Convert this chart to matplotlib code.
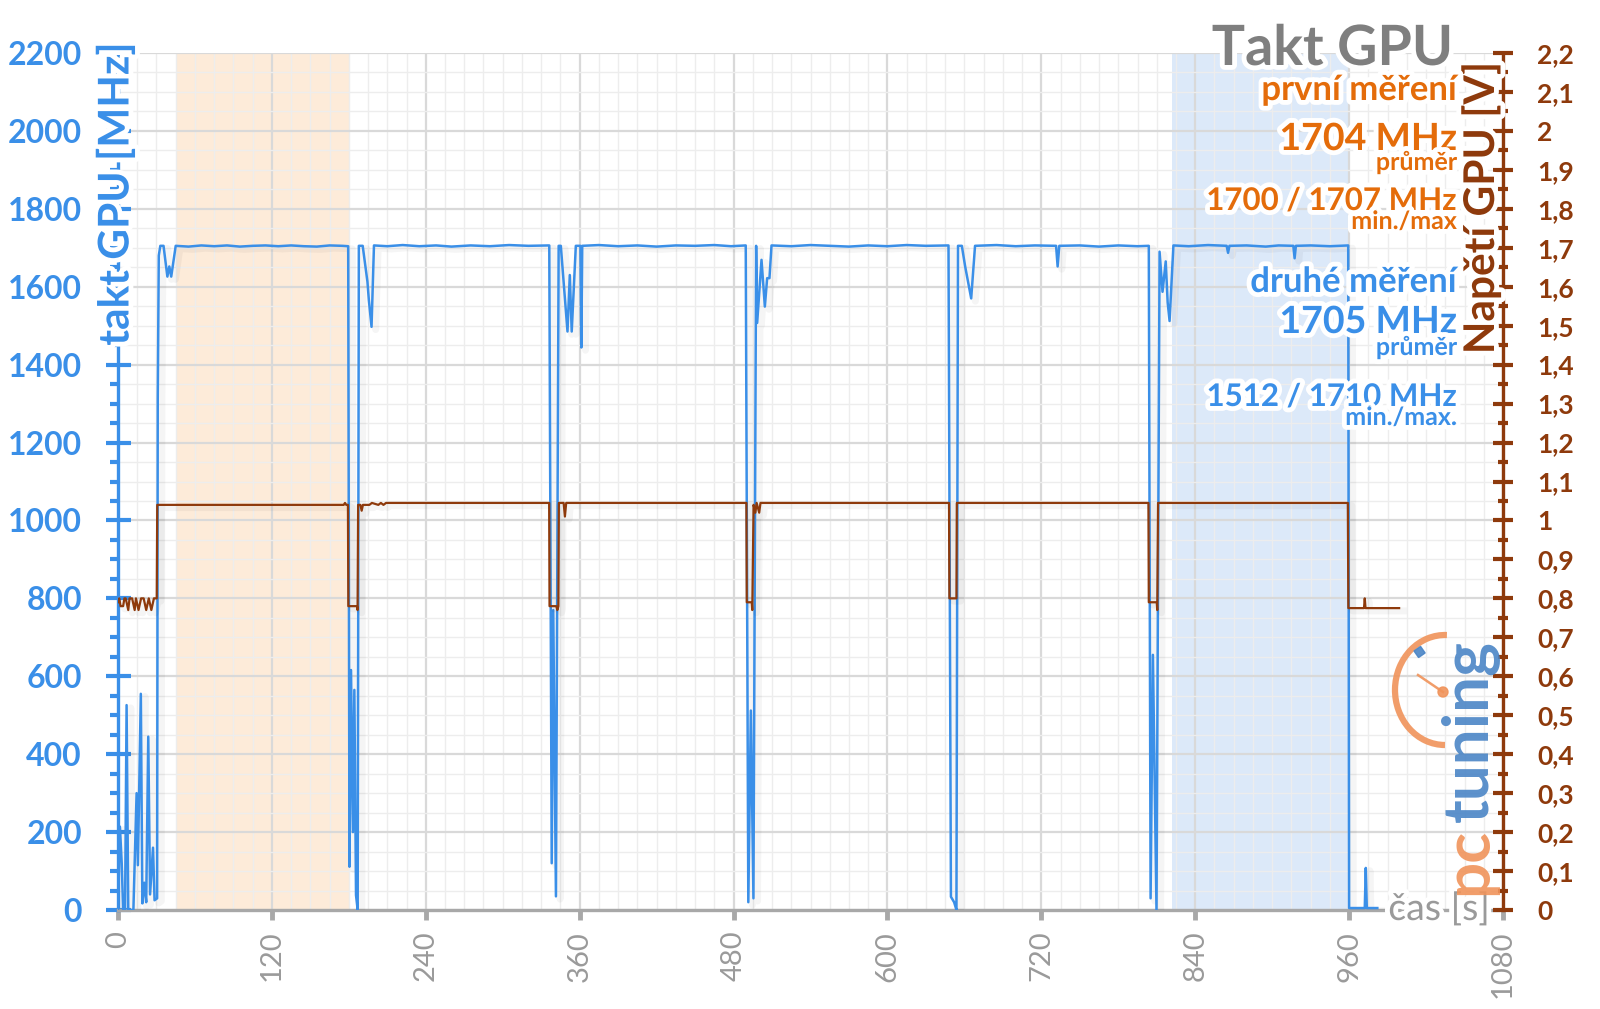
import matplotlib
matplotlib.use('Agg')
import matplotlib.pyplot as plt
from matplotlib import patheffects as pe
from matplotlib.patches import Arc, Circle, Rectangle
from matplotlib.ticker import MultipleLocator

FONT = ['Lato', 'DejaVu Sans']
plt.rcParams['font.family'] = FONT

# ---------------- data ----------------
clock_t = [0, 1.5, 2.9, 4, 5.5, 6.7, 8, 10, 12, 14.5, 15.5, 17.8, 19, 20.5, 22, 23.6, 25, 27.3, 28.5, 30.5,
           31, 31.8, 33, 35.5, 38.5, 40, 41.5, 45,
           55, 65, 75, 85, 95, 105, 115, 125, 135, 145, 155, 165, 175, 179.5,
           180.5, 181.7, 183.2, 184.3, 185.6, 186.9, 187.8, 190.8, 194.5, 195.6, 197.7, 199.6,
           210, 222, 235, 248, 260, 275, 290, 305, 320, 336.3,
           338.2, 339.4, 341.5, 343.6, 345.3, 350.5, 352.3, 353.8, 357, 360.6, 361.3, 362,
           375, 390, 405, 420, 435, 450, 465, 478, 489.5,
           491.5, 493.5, 495.5, 497.6, 498.4, 501.8, 504.4, 506.2, 508, 509.6,
           525, 540, 555, 570, 585, 600, 615, 630, 647.6,
           649.5, 652, 653.8, 655, 658, 660.6, 665.3, 668.3,
           685, 700, 715, 731.5, 732.7, 734, 750, 765, 780, 795, 803.8,
           805.2, 807, 809.8, 812.2, 814.5, 817, 818.5, 820, 823,
           835, 850, 864.5, 865.6, 866.7, 880, 895, 905, 916.5, 917.5, 918.5, 930, 945, 959.3,
           960, 972.2, 973, 973.8, 982]
clock_mhz = [0, 214, 120, 0, 0, 526, 0, 0, 0, 300, 115, 555, 17, 70, 20, 445, 40, 160, 25, 30,
             1315, 1680, 1705, 1705, 1626, 1652, 1626, 1705,
             1703, 1706, 1704, 1706, 1703, 1705, 1706, 1704, 1706, 1704, 1703, 1706, 1705, 1704,
             111, 616, 200, 565, 38, 0, 1705, 1705, 1613, 1566, 1497, 1706,
             1704, 1707, 1704, 1706, 1703, 1706, 1704, 1707, 1705, 1706,
             120, 770, 35, 1705, 1705, 1485, 1630, 1485, 1705, 1705, 1444, 1705,
             1707, 1704, 1706, 1703, 1706, 1705, 1707, 1704, 1706,
             20, 512, 30, 1705, 1507, 1669, 1549, 1622, 1622, 1706,
             1704, 1707, 1705, 1703, 1706, 1704, 1707, 1705, 1706,
             34, 20, 0, 1705, 1705, 1652, 1570, 1705,
             1707, 1704, 1706, 1705, 1652, 1705, 1706, 1703, 1706, 1704, 1705,
             30, 655, 0, 1690, 1587, 1665, 1560, 1512, 1706,
             1704, 1707, 1705, 1687, 1705, 1706, 1703, 1706, 1705, 1673, 1705, 1706, 1704, 1706,
             5, 5, 108, 5, 5]

volt_t = [0, 1, 2, 4, 5, 6, 8, 9, 11, 13, 14, 16, 18, 20, 22, 24, 26, 28, 30.2, 30.6,
          176, 177, 178, 179.3, 179.6, 186.4, 186.8, 187.2,
          189, 190, 191, 196, 198, 203, 205, 207, 209, 212, 336.2,
          336.5, 341.8, 342.6, 343.4, 343.8, 347.5, 348.5, 349.5, 490,
          490.3, 494.2, 494.6, 495.6, 497, 498, 500, 501, 648,
          648.3, 653.8, 654.1, 803.5,
          803.8, 810, 810.4, 811, 959,
          959.4, 971.6, 972.2, 972.8, 999]
volt_v = [0.79, 0.80, 0.78, 0.78, 0.80, 0.80, 0.77, 0.80, 0.80, 0.77, 0.80, 0.77, 0.80, 0.80, 0.77, 0.80, 0.77, 0.80, 0.80, 1.04,
          1.04, 1.045, 1.04, 1.04, 0.78, 0.78, 0.77, 1.04,
          1.04, 1.025, 1.04, 1.04, 1.045, 1.04, 1.045, 1.04, 1.045, 1.045, 1.045,
          0.78, 0.78, 0.77, 0.78, 1.045, 1.045, 1.01, 1.045, 1.045,
          0.79, 0.79, 0.77, 1.04, 1.02, 1.045, 1.02, 1.045, 1.045,
          0.80, 0.80, 1.045, 1.045,
          0.79, 0.79, 0.77, 1.045, 1.045,
          0.775, 0.775, 0.80, 0.775, 0.775]

band_first = (45, 180)
band_second = (822, 960)

x_ticks = [0, 120, 240, 360, 480, 600, 720, 840, 960, 1080]
y_ticks = [0, 200, 400, 600, 800, 1000, 1200, 1400, 1600, 1800, 2000, 2200]
v_ticks = [0.0, 0.1, 0.2, 0.3, 0.4, 0.5, 0.6, 0.7, 0.8, 0.9, 1.0, 1.1, 1.2, 1.3, 1.4,
           1.5, 1.6, 1.7, 1.8, 1.9, 2.0, 2.1, 2.2]
v_labels = ['0', '0,1', '0,2', '0,3', '0,4', '0,5', '0,6', '0,7', '0,8', '0,9', '1', '1,1', '1,2',
            '1,3', '1,4', '1,5', '1,6', '1,7', '1,8', '1,9', '2', '2,1', '2,2']

# ---------------- colours ----------------
BLUE = '#3a8fe8'
BROWN = '#8e3a0c'
ORANGE = '#e46c0a'
GRAY = '#9a9a9a'
TITLE_GRAY = '#7f7f7f'

fig = plt.figure(figsize=(16, 10.09), dpi=100)
ax = fig.add_axes([118 / 1600, 1 - 910 / 1009, (1503 - 118) / 1600, (910 - 53) / 1009])
ax.set_xlim(0, 1080)
ax.set_ylim(0, 2200)

ax.axvspan(*band_first, color='#fdebd9', zorder=0.1, lw=0)
ax.axvspan(*band_second, color='#dce9f9', zorder=0.1, lw=0)

ax.set_axisbelow(True)
ax.xaxis.set_minor_locator(MultipleLocator(15))
ax.yaxis.set_minor_locator(MultipleLocator(50))
ax.grid(which='major', color='#d9d9d9', lw=1.6)
ax.grid(which='minor', color='#ededed', lw=1.0)

shadow = [pe.SimpleLineShadow(offset=(3, -2), shadow_color='#000000', alpha=0.04, linewidth=5), pe.Normal()]
ax.plot(clock_t, clock_mhz, color=BLUE, lw=1.8, zorder=3, path_effects=shadow)

for s in ['top', 'right']:
    ax.spines[s].set_visible(False)
ax.spines['left'].set_color(BLUE)
ax.spines['left'].set_linewidth(2.4)
ax.spines['bottom'].set_color('#a8a8a8')
ax.spines['bottom'].set_linewidth(2.4)

ax.set_xticks(x_ticks)
ax.set_xticklabels([str(v) for v in x_ticks], rotation=90, color=GRAY, fontsize=21)
ax.tick_params(axis='x', which='major', direction='out', length=7, width=3.5, color='#a8a8a8', pad=8)
ax.tick_params(axis='x', which='minor', length=0)

ax.set_yticks(y_ticks)
ax.set_yticklabels([str(v) for v in y_ticks], color=BLUE, fontsize=23, fontweight='bold')
ax.tick_params(axis='y', which='major', direction='inout', length=18, width=3, color=BLUE, pad=17)
ax.tick_params(axis='y', which='minor', direction='out', length=6, width=3, color=BLUE)

ax2 = ax.twinx()
ax2.set_ylim(0, 2.2)
ax2.plot(volt_t, volt_v, color=BROWN, lw=1.6, zorder=3, path_effects=shadow)
for s in ['top', 'left', 'bottom']:
    ax2.spines[s].set_visible(False)
ax2.spines['right'].set_color(BROWN)
ax2.spines['right'].set_linewidth(2.4)
ax2.set_yticks(v_ticks)
ax2.set_yticklabels(v_labels, color=BROWN, fontsize=19, fontweight='bold')
ax2.yaxis.set_minor_locator(MultipleLocator(0.05))
ax2.tick_params(axis='y', which='major', direction='inout', length=15, width=3, color=BROWN, pad=17)
ax2.tick_params(axis='y', which='minor', direction='inout', length=7, width=3, color=BROWN)

# ---------------- overlay (pixel coordinates) ----------------
ov = fig.add_axes([0, 0, 1, 1], zorder=10)
ov.set_xlim(0, 1600)
ov.set_ylim(1009, 0)
ov.axis('off')
ov.patch.set_alpha(0)

glow = [pe.withStroke(linewidth=7, foreground='white')]

def txt(x, y, s, size, color, weight='bold', ha='right', va='baseline', rot=0, effects=glow):
    ov.text(x, y, s, fontsize=size, color=color, fontweight=weight, ha=ha, va=va,
            rotation=rot, rotation_mode='anchor', path_effects=effects)

txt(116, 194, 'takt GPU [MHz]', 30.5, BLUE, ha='center', va='center', rot=90)
txt(1481, 208, 'Napětí GPU [V]', 30.5, BROWN, ha='center', va='center', rot=90)

txt(1453, 65, 'Takt GPU', 40, TITLE_GRAY)
txt(1457, 100, 'první měření', 25, ORANGE)
txt(1457, 150, '1704 MHz', 27, ORANGE)
txt(1457, 170, 'průměr', 18, ORANGE)
txt(1457, 210, '1700 / 1707 MHz', 22.5, ORANGE)
txt(1457, 229, 'min./max', 18, ORANGE)
txt(1457, 292, 'druhé měření', 25, BLUE)
txt(1457, 333, '1705 MHz', 27, BLUE)
txt(1457, 355, 'průměr', 18, BLUE)
txt(1457, 406, '1512 / 1710 MHz', 22.5, BLUE)
txt(1457, 425, 'min./max.', 18, BLUE)

txt(1490, 920, 'čas [s]', 27, GRAY, weight='normal')

# pctuning logo
LOGO_OR = '#f0935a'
LOGO_BL = '#4a85c6'
ov.text(1487, 895, 'pc', fontsize=46, color=LOGO_OR, fontweight='bold', ha='left', va='baseline',
        rotation=90, rotation_mode='anchor', alpha=0.9)
ov.text(1487, 822, 'tuning', fontsize=46, color=LOGO_BL, fontweight='bold', ha='left', va='baseline',
        rotation=90, rotation_mode='anchor', alpha=0.9)
ov.add_patch(Arc((1445, 690), 100, 110, theta1=90, theta2=272, color=LOGO_OR, lw=4.5, alpha=0.9))
ov.plot([1418, 1443], [675, 692], color=LOGO_OR, lw=1.8, alpha=0.9)
ov.add_patch(Circle((1443, 692), 5, color=LOGO_OR, alpha=0.9))
ov.add_patch(Rectangle((1414, 651), 8, 8, angle=-35, color=LOGO_BL, alpha=0.9))

fig.savefig('out.png', dpi=100, facecolor='white')
